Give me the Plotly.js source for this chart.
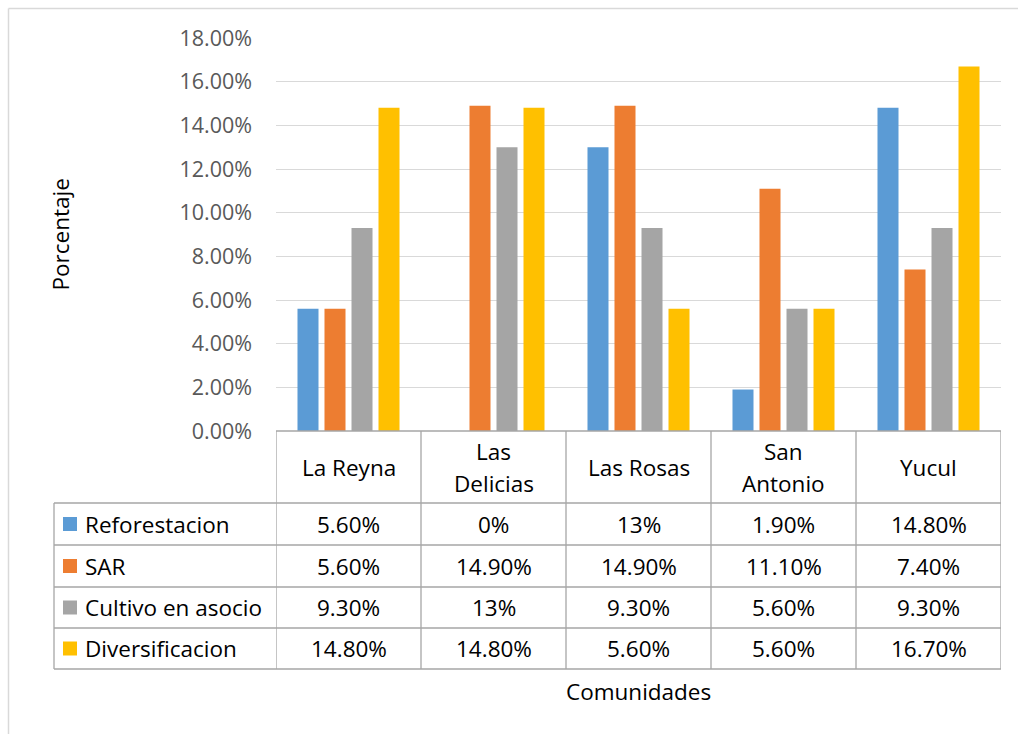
<!DOCTYPE html>
<html>
<head>
<meta charset="utf-8">
<script src="https://cdn.plot.ly/plotly-3.0.1.min.js"></script>
<style>html,body{margin:0;padding:0;background:#fff;}</style>
</head>
<body>
<div id="chart" style="width:1018px;height:734px;"></div>
<script>
// ---- data ----
const categories = ["La Reyna", "Las Delicias", "Las Rosas", "San Antonio", "Yucul"];
const headerLabels = [["La Reyna"], ["Las", "Delicias"], ["Las Rosas"], ["San", "Antonio"], ["Yucul"]];
const seriesNames = ["Reforestacion", "SAR", "Cultivo en asocio", "Diversificacion"];
const reforestacion = [0.056, 0.0, 0.13, 0.019, 0.148];
const sar = [0.056, 0.149, 0.149, 0.111, 0.074];
const cultivo = [0.093, 0.13, 0.093, 0.056, 0.093];
const diversificacion = [0.148, 0.148, 0.056, 0.056, 0.167];
const reforestacionText = ["5.60%", "0%", "13%", "1.90%", "14.80%"];
const sarText = ["5.60%", "14.90%", "14.90%", "11.10%", "7.40%"];
const cultivoText = ["9.30%", "13%", "9.30%", "5.60%", "9.30%"];
const diversificacionText = ["14.80%", "14.80%", "5.60%", "5.60%", "16.70%"];
const yTickVals = [0, 0.02, 0.04, 0.06, 0.08, 0.10, 0.12, 0.14, 0.16, 0.18];
const yTickText = ["0.00%", "2.00%", "4.00%", "6.00%", "8.00%", "10.00%", "12.00%", "14.00%", "16.00%", "18.00%"];
const yTitle = "Porcentaje";
const xTitle = "Comunidades";

// ---- styles ----
const colors = ["#5B9BD5", "#ED7D31", "#A5A5A5", "#FFC000"];
const FONT = "'Open Sans', 'Noto Sans', sans-serif";
const FS = 22.5;
const W = 1018, H = 734;
const L = 276, R = 1001, T = 38, B = 431;
const lineColor = "#a6a6a6";
const py = p => (B - p) / (B - T);      // pixel y -> paper y
const px = p => (p - L) / (R - L);      // pixel x -> paper x

const seriesValues = [reforestacion, sar, cultivo, diversificacion];
const seriesText = [reforestacionText, sarText, cultivoText, diversificacionText];

const traces = seriesNames.map((n, i) => ({
  type: "bar",
  name: n,
  x: categories,
  y: seriesValues[i],
  marker: {color: colors[i]},
  hoverinfo: "x+y+name"
}));

const shapes = [];
const annotations = [];

// outer chart border
shapes.push({type: "line", xref: "paper", yref: "paper", x0: px(8.5), x1: px(1030), y0: py(8.5), y1: py(8.5), line: {color: "#d9d9d9", width: 1.5}});
shapes.push({type: "line", xref: "paper", yref: "paper", x0: px(8.5), x1: px(8.5), y0: py(8.5), y1: py(760), line: {color: "#d9d9d9", width: 1.5}});

// table geometry (pixels)
const headerBottom = 503;
const rowLines = [503, 545, 587, 628, 669];
const tableLeft = 54;

// header top line
shapes.push({type: "line", xref: "paper", yref: "paper", x0: 0, x1: 1, y0: 0, y1: 0, line: {color: lineColor, width: 1.3}});
// vertical category lines
for (let i = 0; i <= categories.length; i++) {
  shapes.push({type: "line", xref: "x", yref: "paper", x0: i - 0.5, x1: i - 0.5, y0: py(B), y1: py(rowLines[rowLines.length - 1]), line: {color: lineColor, width: 1.3}});
}
// left column vertical
shapes.push({type: "line", xref: "paper", yref: "paper", x0: px(tableLeft), x1: px(tableLeft), y0: py(rowLines[0]), y1: py(rowLines[rowLines.length - 1]), line: {color: lineColor, width: 1.3}});
// horizontal row lines
rowLines.forEach(r => {
  shapes.push({type: "line", xref: "paper", yref: "paper", x0: px(tableLeft), x1: 1, y0: py(r), y1: py(r), line: {color: lineColor, width: 1.3}});
});

// header labels (each line placed separately for Excel-like line spacing)
const headerMid = (B + headerBottom) / 2;
const lineGap = 32;
headerLabels.forEach((lines, i) => {
  lines.forEach((t, k) => {
    const yPix = headerMid + (k - (lines.length - 1) / 2) * lineGap;
    annotations.push({xref: "x", yref: "paper", x: i, y: py(yPix), text: t, showarrow: false,
      xanchor: "center", yanchor: "middle", align: "center", font: {family: FONT, size: FS, color: "#000"}});
  });
});

// rows
seriesNames.forEach((n, r) => {
  const ycPix = (rowLines[r] + rowLines[r + 1]) / 2;
  const yc = py(ycPix);
  shapes.push({type: "rect", xref: "paper", yref: "paper", x0: px(63), x1: px(77), y0: py(ycPix + 7), y1: py(ycPix - 7),
    fillcolor: colors[r], line: {width: 0}});
  annotations.push({xref: "paper", yref: "paper", x: px(83), y: yc, text: n, showarrow: false,
    xanchor: "left", yanchor: "middle", font: {family: FONT, size: FS, color: "#000"}});
  seriesText[r].forEach((t, i) => {
    annotations.push({xref: "x", yref: "paper", x: i, y: yc, text: t, showarrow: false,
      xanchor: "center", yanchor: "middle", font: {family: FONT, size: FS, color: "#000"}});
  });
});

// axis titles
annotations.push({xref: "paper", yref: "paper", x: 0.5, y: py(691), text: xTitle, showarrow: false,
  xanchor: "center", yanchor: "middle", font: {family: FONT, size: FS, color: "#000"}});
annotations.push({xref: "paper", yref: "paper", x: px(60), y: 0.5, text: yTitle, showarrow: false, textangle: -90,
  xanchor: "center", yanchor: "middle", font: {family: FONT, size: FS, color: "#000"}});

const layout = {
  width: W, height: H,
  margin: {l: L, r: W - R, t: T, b: H - B, pad: 0},
  paper_bgcolor: "#fff", plot_bgcolor: "#fff",
  showlegend: false,
  barmode: "group",
  bargap: 0.255,
  bargroupgap: 0.222,
  font: {family: FONT},
  xaxis: {
    type: "category",
    range: [-0.5, 4.5],
    showticklabels: false,
    showgrid: false,
    zeroline: false,
    showline: false,
    ticks: ""
  },
  yaxis: {
    range: [0, 0.18],
    tickvals: yTickVals,
    ticktext: yTickText,
    showgrid: true,
    gridcolor: "#d9d9d9",
    gridwidth: 1.3,
    zeroline: false,
    showline: false,
    ticks: "",
    ticklabelstandoff: 23,
    tickfont: {family: FONT, size: 21.5, color: "#595959"}
  },
  shapes: shapes,
  annotations: annotations
};

Plotly.newPlot("chart", traces, layout, {displayModeBar: false});
</script>
</body>
</html>
